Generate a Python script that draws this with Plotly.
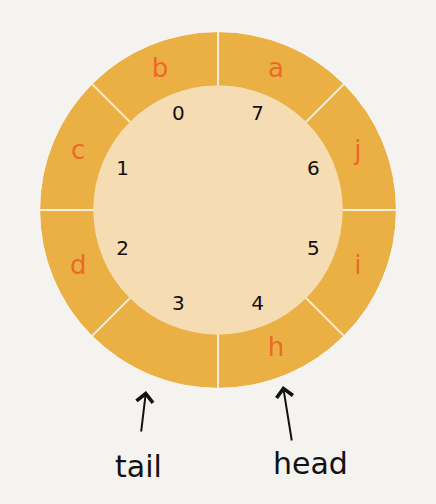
import plotly.graph_objects as go

# ring buffer: slot index -> stored letter (slot 3 is empty)
slot_index = [0, 1, 2, 3, 4, 5, 6, 7]
slot_value = ["b", "c", "d", "", "h", "i", "j", "a"]
pointer_names = ["tail", "head"]

bg = "#F4F3EF"
ring = "#EBB044"
inner = "#F5DCB2"
letter_col = "#EB6A2A"
divider = "#F8EEDA"

n = len(slot_index)
step = 360 / n
start = 112.5  # centre of slot 0
theta = [start + step * i for i in slot_index]
inner_r, outer_r = 0.70, 1.0

fig = go.Figure()

# inner disc
fig.add_trace(go.Barpolar(
    r=[inner_r], theta=[0], width=[360], base=0,
    marker=dict(color=inner, line=dict(width=0)),
    hoverinfo="skip",
))

# ring slots
fig.add_trace(go.Barpolar(
    r=[outer_r - inner_r] * n, theta=theta, width=[step] * n, base=inner_r,
    marker=dict(color=ring, line=dict(width=0)),
    hoverinfo="skip",
))

# dividers between slots
for t in theta:
    fig.add_trace(go.Scatterpolar(
        r=[inner_r, outer_r], theta=[t - step / 2] * 2, mode="lines",
        line=dict(color=divider, width=2), hoverinfo="skip",
    ))

# letters in the ring
fig.add_trace(go.Scatterpolar(
    r=[0.85] * n, theta=theta, mode="text", text=slot_value,
    textfont=dict(family="DejaVu Sans", size=26, color=letter_col),
    hoverinfo="skip",
))

# slot indices
fig.add_trace(go.Scatterpolar(
    r=[0.58] * n, theta=theta, mode="text", text=[str(i) for i in slot_index],
    textfont=dict(family="DejaVu Sans", size=20, color="#111111"),
    hoverinfo="skip",
))

# tail / head pointers
tips = [(146 / 436, 1 - 391 / 504, -5, 42), (283 / 436, 1 - 386 / 504, 9, 56)]
labels = [(138 / 436, 1 - 466 / 504), (310 / 436, 1 - 463 / 504)]
annotations = []
for name, (x, y, ax, ay), (lx, ly) in zip(pointer_names, tips, labels):
    annotations.append(dict(
        x=x, y=y, xref="paper", yref="paper", ax=ax, ay=ay, text="",
        showarrow=True, arrowhead=4, arrowsize=1.6, arrowwidth=2,
        arrowcolor="#111111",
    ))
    annotations.append(dict(
        x=lx, y=ly, xref="paper", yref="paper", text=name, showarrow=False,
        xanchor="center", yanchor="middle",
        font=dict(family="DejaVu Sans", size=30, color="#111111"),
    ))

fig.update_layout(
    width=436, height=504,
    margin=dict(l=0, r=0, t=0, b=0),
    paper_bgcolor=bg, plot_bgcolor=bg,
    showlegend=False,
    polar=dict(
        domain=dict(x=[38 / 436, 398 / 436], y=[1 - 388 / 504, 1 - 32 / 504]),
        bgcolor=bg,
        barmode="overlay",
        radialaxis=dict(range=[0, 1], visible=False),
        angularaxis=dict(visible=False, rotation=0, direction="counterclockwise"),
        hole=0,
    ),
    annotations=annotations,
)

fig.write_html(
    "out.html",
    config={"displayModeBar": False},
    post_script="document.body.style.margin='0';document.body.style.background='%s';" % bg,
)
